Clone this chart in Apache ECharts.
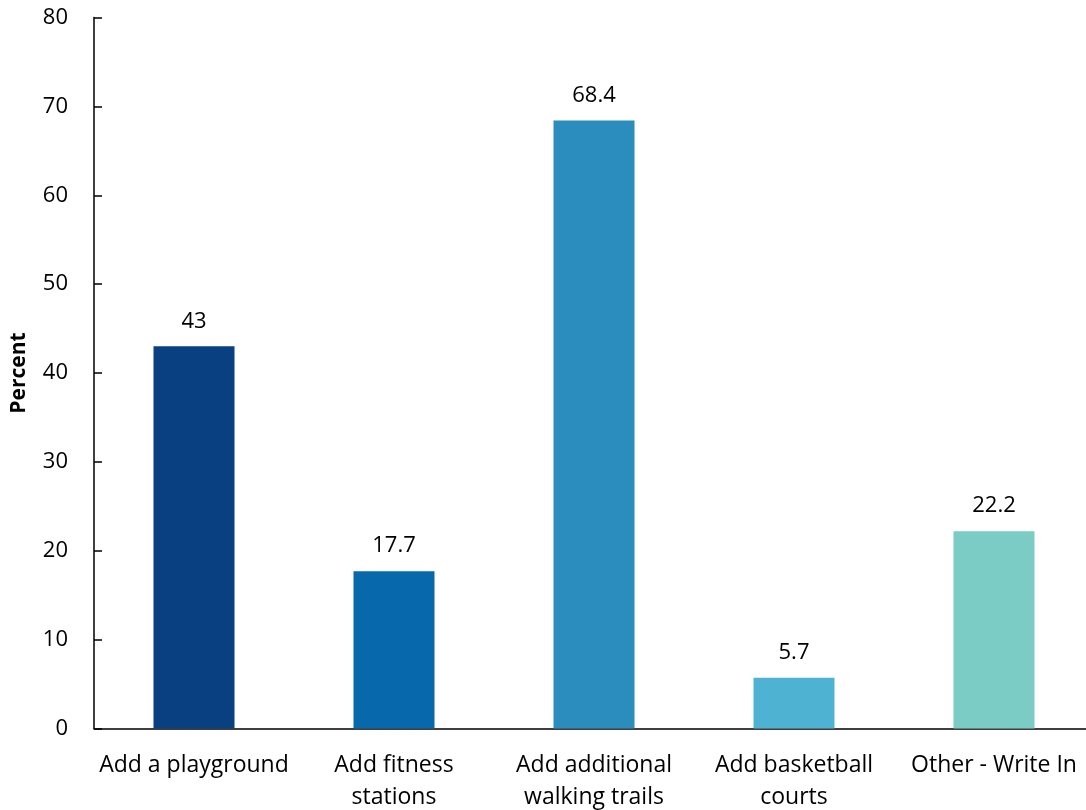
<!DOCTYPE html>
<html><head><meta charset="utf-8">
<script src="https://cdn.jsdelivr.net/npm/echarts@6/dist/echarts.min.js"></script>
<style>html,body{margin:0;padding:0;background:#fff}#c{width:1086px;height:810px}</style>
</head><body><div id="c"></div>
<script>
const categories = ["Add a playground", "Add fitness\nstations", "Add additional\nwalking trails", "Add basketball\ncourts", "Other - Write In"];
const values = [43, 17.7, 68.4, 5.7, 22.2];
const colors = ["#084081", "#0868ac", "#2b8cbe", "#4eb3d3", "#7bccc4"];
const yTicks = { min: 0, max: 80, interval: 10 };
const yTitle = "Percent";

const font = "'Open Sans', sans-serif";
const chart = echarts.init(document.getElementById('c'), null, { renderer: 'canvas' });
chart.setOption({
  animation: false,
  grid: { left: 94, right: -8, top: 17.5, bottom: 81.5, outerBoundsMode: 'none', containLabel: false },
  xAxis: {
    type: 'category', data: categories,
    axisLine: { lineStyle: { color: '#000', width: 1.5 } },
    axisTick: { inside: true, length: 7, lineStyle: { color: '#000', width: 1.5 } },
    axisLabel: { color: '#000', fontSize: 23, fontFamily: font, margin: 21, lineHeight: 32, interval: 0 }
  },
  yAxis: {
    type: 'value', min: yTicks.min, max: yTicks.max, interval: yTicks.interval,
    name: yTitle, nameLocation: 'middle', nameGap: 64, nameRotate: 90,
    nameTextStyle: { color: '#000', fontSize: 21, fontWeight: 'bold', fontFamily: font },
    axisLine: { show: true, lineStyle: { color: '#000', width: 1.5 } },
    axisTick: { show: true, inside: true, length: 8, lineStyle: { color: '#000', width: 1.5 } },
    splitLine: { show: false },
    axisLabel: { color: '#000', fontSize: 22, fontFamily: font, margin: 26 }
  },
  series: [{
    type: 'bar', barWidth: 81,
    data: values.map((v, i) => ({ value: v, itemStyle: { color: colors[i] } })),
    label: { show: true, position: 'top', distance: 14, color: '#000', fontSize: 22, fontFamily: font }
  }]
});
</script></body></html>
